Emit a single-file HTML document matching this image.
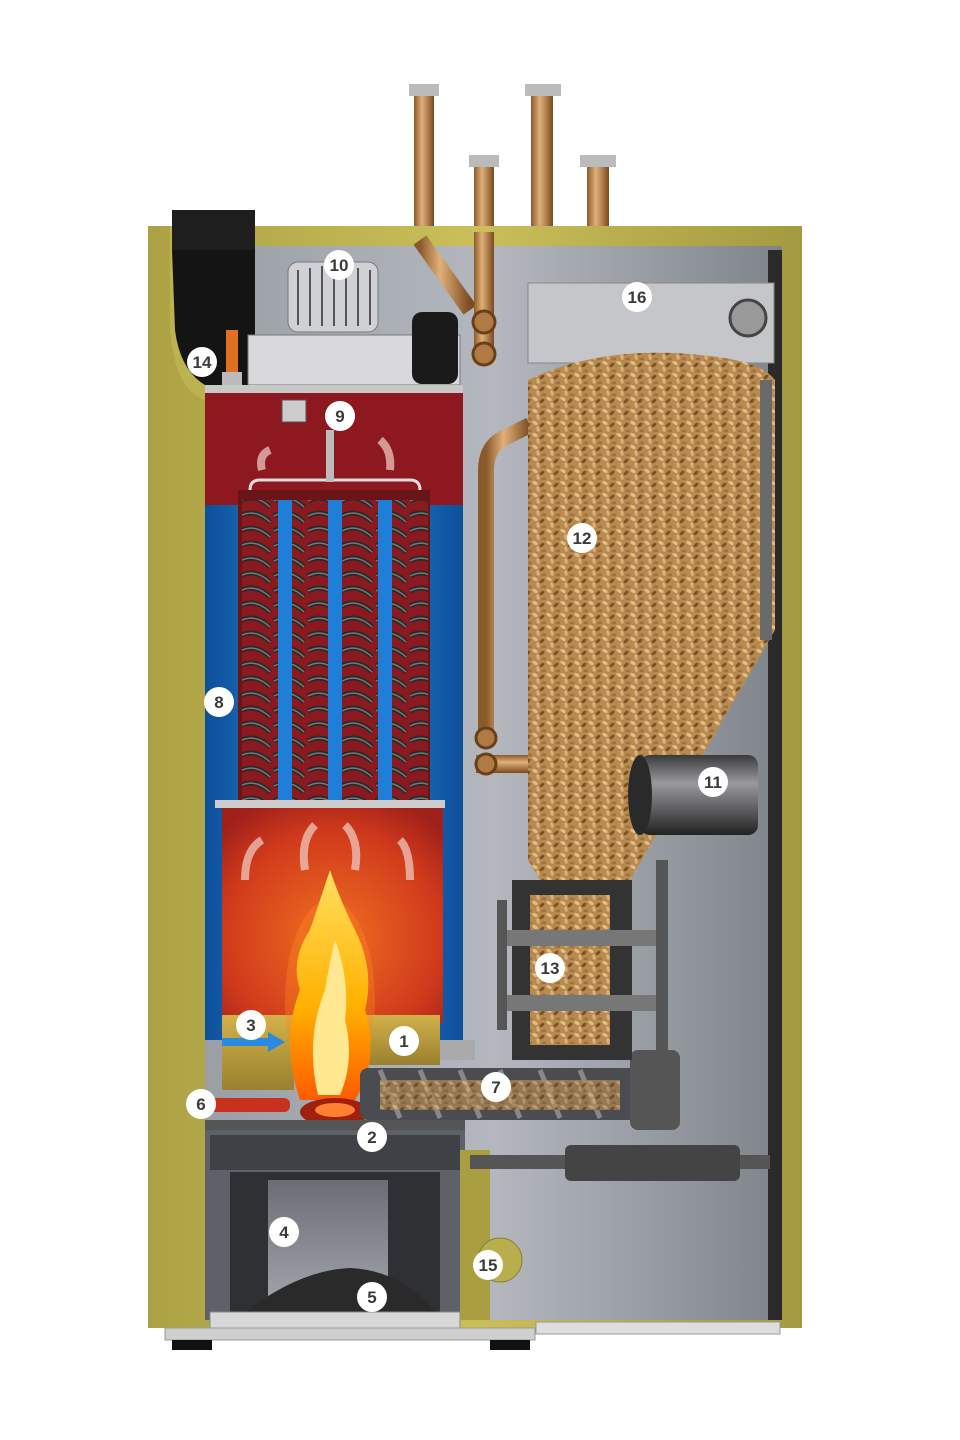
<!DOCTYPE html>
<html><head><meta charset="utf-8"><style>
html,body{margin:0;padding:0;background:#fff;}
svg{display:block;}
text{font-family:"Liberation Sans",sans-serif;font-weight:bold;}
</style></head><body>
<svg width="960" height="1440" viewBox="0 0 960 1440" xmlns="http://www.w3.org/2000/svg">
<defs>
<linearGradient id="copper" x1="0" x2="1"><stop offset="0" stop-color="#8a5a2a"/><stop offset=".4" stop-color="#e0b07a"/><stop offset="1" stop-color="#7a4a20"/></linearGradient>
<linearGradient id="copperH" x1="0" y1="0" x2="0" y2="1"><stop offset="0" stop-color="#8a5a2a"/><stop offset=".4" stop-color="#e0b07a"/><stop offset="1" stop-color="#7a4a20"/></linearGradient>
<linearGradient id="steel" x1="0" x2="1"><stop offset="0" stop-color="#9a9fa6"/><stop offset=".5" stop-color="#b4b8be"/><stop offset="1" stop-color="#7f848b"/></linearGradient>
<linearGradient id="blue" x1="0" x2="1"><stop offset="0" stop-color="#0d4f9a"/><stop offset=".5" stop-color="#2d8fe0"/><stop offset="1" stop-color="#0d4f9a"/></linearGradient>
<radialGradient id="fire" cx=".5" cy=".6" r=".7"><stop offset="0" stop-color="#f07020"/><stop offset=".7" stop-color="#d03a1c"/><stop offset="1" stop-color="#a0201a"/></radialGradient>
<linearGradient id="flame" x1="0" y1="1" x2="0" y2="0"><stop offset="0" stop-color="#ff5a00"/><stop offset=".4" stop-color="#ffb000"/><stop offset="1" stop-color="#ffe060"/></linearGradient>
<linearGradient id="brick" x1="0" y1="0" x2="0" y2="1"><stop offset="0" stop-color="#d2b24a"/><stop offset="1" stop-color="#9a8030"/></linearGradient>
<linearGradient id="motor" x1="0" y1="0" x2="0" y2="1"><stop offset="0" stop-color="#3a3a3c"/><stop offset=".35" stop-color="#9a9a9e"/><stop offset="1" stop-color="#222"/></linearGradient>
<linearGradient id="ins" x1="0" x2="1"><stop offset="0" stop-color="#aca244"/><stop offset=".5" stop-color="#cbbf5a"/><stop offset="1" stop-color="#a39a40"/></linearGradient>
<linearGradient id="ash" x1="0" y1="0" x2="0" y2="1"><stop offset="0" stop-color="#6a6e74"/><stop offset="1" stop-color="#a4a8ae"/></linearGradient>
<pattern id="pel" width="14" height="12" patternUnits="userSpaceOnUse">
<rect width="14" height="12" fill="#b88a50"/>
<ellipse cx="3" cy="3" rx="3" ry="1.6" fill="#e2c08a" transform="rotate(30 3 3)"/>
<ellipse cx="10" cy="5" rx="3" ry="1.6" fill="#7a5228" transform="rotate(-40 10 5)"/>
<ellipse cx="6" cy="9" rx="3" ry="1.6" fill="#d8b27a" transform="rotate(80 6 9)"/>
<ellipse cx="12" cy="11" rx="2.5" ry="1.4" fill="#a07040"/>
</pattern>
<pattern id="coil" width="34" height="30" patternUnits="userSpaceOnUse">
<rect width="34" height="30" fill="#8a1a20"/>
<path d="M2 6 Q17 -2 32 12 M2 21 Q17 13 32 27" stroke="#2a2a2a" stroke-width="5" fill="none"/>
<path d="M2 6 Q17 -2 32 12 M2 21 Q17 13 32 27" stroke="#777" stroke-width="1.5" fill="none"/>
</pattern>
</defs>

<rect x="414" y="92" width="20" height="140" fill="url(#copper)"/>
<rect x="409" y="84" width="30" height="12" fill="#bbb"/>
<rect x="474" y="162" width="20" height="70" fill="url(#copper)"/>
<rect x="469" y="155" width="30" height="12" fill="#bbb"/>
<rect x="531" y="92" width="22" height="190" fill="url(#copper)"/>
<rect x="525" y="84" width="36" height="12" fill="#bbb"/>
<rect x="587" y="162" width="22" height="120" fill="url(#copper)"/>
<rect x="580" y="155" width="36" height="12" fill="#bbb"/>

<rect x="148" y="226" width="654" height="1102" fill="url(#ins)"/>
<rect x="205" y="246" width="577" height="1074" fill="url(#steel)"/>
<rect x="768" y="250" width="14" height="1070" fill="#2a2a2a"/>
<path d="M170 226 L170 330 Q175 390 205 400 L205 246 Z" fill="#bcb250"/>
<rect x="172" y="210" width="83" height="40" fill="#1e1e1e"/>
<path d="M172 250 L255 250 L255 385 L205 385 Q180 370 175 330 Z" fill="#141414"/>
<rect x="226" y="330" width="12" height="50" fill="#e07020"/>
<rect x="222" y="372" width="20" height="22" fill="#bbb"/>

<path d="M420 240 L470 310" stroke="url(#copper)" stroke-width="16"/>
<rect x="474" y="232" width="20" height="130" fill="url(#copper)"/>
<circle cx="484" cy="322" r="11" fill="#b07a44" stroke="#6a4018" stroke-width="3"/>
<circle cx="484" cy="354" r="11" fill="#b07a44" stroke="#6a4018" stroke-width="3"/>
<path d="M486 740 L486 470 Q486 450 500 440 L530 425" stroke="url(#copper)" stroke-width="16" fill="none"/>
<rect x="476" y="755" width="55" height="18" fill="url(#copperH)"/>
<circle cx="486" cy="738" r="10" fill="#b07a44" stroke="#6a4018" stroke-width="3"/>
<circle cx="486" cy="764" r="10" fill="#b07a44" stroke="#6a4018" stroke-width="3"/>

<rect x="248" y="335" width="212" height="50" fill="#d9d9dc" stroke="#777"/>
<rect x="288" y="262" width="90" height="70" rx="10" fill="#cfd1d4" stroke="#777"/>
<g stroke="#555" stroke-width="2"><path d="M298 270v55M310 268v58M322 266v60M334 266v60M346 266v60M358 268v58M370 270v55"/></g>
<rect x="412" y="312" width="46" height="72" rx="10" fill="#1a1a1a"/>

<rect x="205" y="385" width="258" height="125" fill="#8e1820"/>
<rect x="205" y="385" width="258" height="8" fill="#c8c8c8"/>
<rect x="205" y="505" width="258" height="535" fill="url(#blue)"/>
<rect x="238" y="490" width="192" height="312" fill="#6a1418"/>
<rect x="242" y="500" width="36" height="300" fill="url(#coil)"/>
<rect x="292" y="500" width="36" height="300" fill="url(#coil)"/>
<rect x="342" y="500" width="36" height="300" fill="url(#coil)"/>
<rect x="392" y="500" width="36" height="300" fill="url(#coil)"/>
<rect x="278" y="500" width="14" height="300" fill="#1f7fd8"/>
<rect x="328" y="500" width="14" height="300" fill="#1f7fd8"/>
<rect x="378" y="500" width="14" height="300" fill="#1f7fd8"/>
<path d="M250 490 Q250 480 260 480 L410 480 Q420 480 420 490" stroke="#ddd" stroke-width="3" fill="none"/>
<rect x="326" y="430" width="8" height="52" fill="#bbb"/>
<rect x="282" y="400" width="24" height="22" fill="#ccc" stroke="#555"/>
<rect x="215" y="800" width="230" height="8" fill="#ccc"/>
<rect x="222" y="808" width="221" height="215" fill="url(#fire)"/>
<g fill="none" stroke="#f2d0c8" stroke-width="8" opacity=".7">
<path d="M245 880 Q245 850 262 840"/><path d="M305 870 Q300 840 315 825"/><path d="M355 870 Q360 840 345 825"/><path d="M410 880 Q410 850 400 840"/>
<path d="M262 470 Q258 455 270 450"/><path d="M390 470 Q392 450 380 440"/>
</g>
<rect x="222" y="1015" width="72" height="75" fill="url(#brick)"/>
<rect x="365" y="1015" width="75" height="50" fill="url(#brick)"/>
<rect x="440" y="1040" width="35" height="20" fill="#aaa"/>
<ellipse cx="330" cy="1000" rx="45" ry="100" fill="#ff8a20" opacity=".35"/>
<path d="M300 1100 Q280 1040 300 990 Q290 960 310 930 Q320 900 330 870 Q340 900 355 930 Q375 970 365 1010 Q380 1060 355 1100 Z" fill="url(#flame)"/>
<path d="M318 1095 Q305 1040 325 990 Q330 960 335 940 Q350 980 345 1020 Q355 1060 340 1095 Z" fill="#ffe890"/>
<rect x="222" y="1038" width="48" height="8" fill="#2a8ae0"/>
<path d="M268 1032 L285 1042 L268 1052 Z" fill="#2a8ae0"/>
<ellipse cx="335" cy="1112" rx="35" ry="14" fill="#a02010"/>
<ellipse cx="335" cy="1110" rx="20" ry="7" fill="#ff8030"/>
<rect x="200" y="1098" width="90" height="14" rx="6" fill="#c83020"/>
<rect x="205" y="1120" width="260" height="12" fill="#555"/>
<rect x="205" y="1130" width="260" height="190" fill="#5e6268"/>
<rect x="210" y="1135" width="250" height="35" fill="#3e4146"/>
<rect x="230" y="1172" width="210" height="140" fill="#2e3034"/>
<rect x="268" y="1180" width="120" height="130" fill="url(#ash)"/>
<path d="M245 1312 Q300 1270 350 1268 Q400 1270 435 1312 Z" fill="#2a2a2a"/>
<rect x="210" y="1312" width="250" height="16" fill="#d8d8d8" stroke="#888"/>
<rect x="460" y="1150" width="30" height="170" fill="#a99e40"/>
<rect x="360" y="1068" width="290" height="52" rx="8" fill="#4a4c50"/>
<g stroke="#888" stroke-width="5"><path d="M380 1070 L400 1118M420 1070 L440 1118M460 1070 L480 1118M500 1070 L520 1118M540 1070 L560 1118M580 1070 L600 1118"/></g>
<rect x="380" y="1080" width="240" height="30" fill="url(#pel)" opacity=".7"/>
<rect x="630" y="1050" width="50" height="80" rx="8" fill="#555"/>
<rect x="470" y="1155" width="300" height="14" fill="#555"/>
<rect x="565" y="1145" width="175" height="36" rx="6" fill="#444"/>
<rect x="528" y="283" width="246" height="80" fill="#c4c6ca" stroke="#888"/>
<circle cx="748" cy="318" r="18" fill="#999" stroke="#444" stroke-width="3"/>
<path d="M528 380 Q600 345 700 355 Q760 360 775 380 L775 630 L630 880 L540 880 L528 860 Z" fill="url(#pel)"/>
<rect x="760" y="380" width="12" height="260" fill="#6a6a6a"/>
<rect x="640" y="755" width="118" height="80" rx="10" fill="url(#motor)"/>
<ellipse cx="640" cy="795" rx="12" ry="40" fill="#2a2a2a"/>
<rect x="512" y="880" width="120" height="180" fill="#333"/>
<rect x="530" y="895" width="80" height="150" fill="url(#pel)"/>
<rect x="500" y="930" width="165" height="16" fill="#777"/>
<rect x="500" y="995" width="165" height="16" fill="#777"/>
<rect x="656" y="860" width="12" height="200" fill="#555"/>
<rect x="497" y="900" width="10" height="130" fill="#555"/>
<rect x="536" y="1322" width="244" height="12" fill="#ddd" stroke="#999"/>
<rect x="165" y="1328" width="370" height="12" fill="#cfcfcf" stroke="#999"/>
<rect x="172" y="1340" width="40" height="10" fill="#111"/>
<rect x="490" y="1340" width="40" height="10" fill="#111"/>
<circle cx="500" cy="1260" r="22" fill="#b8ae4e" stroke="#8a8030"/>

<g font-size="17" text-anchor="middle" fill="#3a3a3a">
<circle cx="339" cy="265" r="15" fill="#fff"/><text x="339" y="271">10</text>
<circle cx="202" cy="362" r="15" fill="#fff"/><text x="202" y="368">14</text>
<circle cx="340" cy="416" r="15" fill="#fff"/><text x="340" y="422">9</text>
<circle cx="637" cy="297" r="15" fill="#fff"/><text x="637" y="303">16</text>
<circle cx="582" cy="538" r="15" fill="#fff"/><text x="582" y="544">12</text>
<circle cx="219" cy="702" r="15" fill="#fff"/><text x="219" y="708">8</text>
<circle cx="713" cy="782" r="15" fill="#fff"/><text x="713" y="788">11</text>
<circle cx="550" cy="968" r="15" fill="#fff"/><text x="550" y="974">13</text>
<circle cx="251" cy="1025" r="15" fill="#fff"/><text x="251" y="1031">3</text>
<circle cx="404" cy="1041" r="15" fill="#fff"/><text x="404" y="1047">1</text>
<circle cx="496" cy="1087" r="15" fill="#fff"/><text x="496" y="1093">7</text>
<circle cx="201" cy="1104" r="15" fill="#fff"/><text x="201" y="1110">6</text>
<circle cx="372" cy="1137" r="15" fill="#fff"/><text x="372" y="1143">2</text>
<circle cx="284" cy="1232" r="15" fill="#fff"/><text x="284" y="1238">4</text>
<circle cx="488" cy="1265" r="15" fill="#fff"/><text x="488" y="1271">15</text>
<circle cx="372" cy="1297" r="15" fill="#fff"/><text x="372" y="1303">5</text>
</g>
</svg>
</body></html>
